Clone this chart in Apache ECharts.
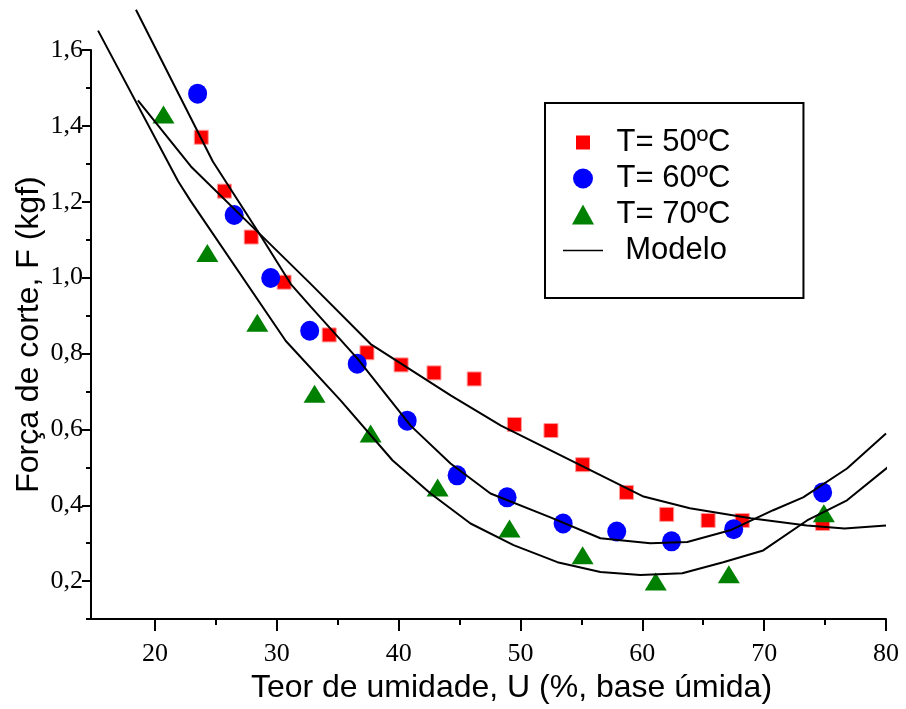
<!DOCTYPE html>
<html>

<head>
    <meta charset="utf-8" />
    <title>Força de corte</title>
    <script src="https://cdn.jsdelivr.net/npm/echarts@6.0.0/dist/echarts.min.js"></script>
</head>

<body style="margin:0">
    <div id="main" style="width: 906px;height:709px;"></div>
    <script type="text/javascript">
        // pontos experimentais [U, F]
        var t50 = [[23.8, 1.37], [25.7, 1.228], [27.9, 1.107], [30.6, 0.988], [34.3, 0.849], [37.4, 0.802],
            [40.2, 0.770], [42.9, 0.749], [46.2, 0.733], [49.5, 0.613], [52.5, 0.597], [55.1, 0.507],
            [58.7, 0.434], [62.0, 0.376], [65.4, 0.360], [68.2, 0.360], [74.8, 0.352]];
        var t60 = [[23.5, 1.485], [26.5, 1.165], [29.5, 0.999], [32.7, 0.860], [36.6, 0.773], [40.7, 0.623],
            [44.8, 0.479], [48.9, 0.421], [53.5, 0.352], [57.9, 0.331], [62.4, 0.305], [67.5, 0.337], [74.8, 0.434]];
        var t70 = [[20.7, 1.430], [24.3, 1.065], [28.4, 0.881], [33.1, 0.694], [37.7, 0.589], [43.2, 0.447],
            [49.1, 0.339], [55.1, 0.268], [61.1, 0.199], [67.1, 0.218], [74.9, 0.379]];

        // curvas do modelo
        var model50 = [[18.6, 1.467], [22.95, 1.293], [28.7, 1.112], [32.8, 0.983], [37.7, 0.825], [44.3, 0.689],
            [48.4, 0.61], [56.6, 0.479], [60.1, 0.423], [63.9, 0.392], [68.9, 0.366], [73.5, 0.347], [76.6, 0.339], [80, 0.347]];
        var model60 = [[18.44, 1.706], [24.75, 1.306], [28.7, 1.109], [31.15, 0.983], [32.8, 0.923], [36.64, 0.786],
            [40.98, 0.610], [44.26, 0.510], [47.54, 0.431], [52.46, 0.368], [56.56, 0.313], [60.66, 0.300],
            [63.69, 0.303], [67.21, 0.334], [70.74, 0.387], [73.2, 0.421], [76.8, 0.497], [80, 0.589]];
        var model70 = [[15.33, 1.651], [21.9, 1.254], [22.95, 1.201], [30.74, 0.833], [35.25, 0.676], [39.51, 0.518],
            [42.62, 0.431], [45.9, 0.352], [49.43, 0.295], [53.03, 0.25], [56.56, 0.224], [59.84, 0.216],
            [63.28, 0.221], [66.64, 0.25], [69.92, 0.281], [73.52, 0.36], [76.8, 0.413], [80.33, 0.505]];

        // marcas dos eixos
        var xTicks = [20, 30, 40, 50, 60, 70, 80];
        var xMinorTicks = [25, 35, 45, 55, 65, 75];
        var yTicks = [0.2, 0.4, 0.6, 0.8, 1.0, 1.2, 1.4, 1.6];
        var yMinorTicks = [0.1, 0.3, 0.5, 0.7, 0.9, 1.1, 1.3, 1.5];

        var myChart = echarts.init(document.getElementById('main'));

        var tickFont = { fontFamily: 'Liberation Serif', fontSize: 26, color: '#000' };
        var nameFont = { fontFamily: 'Liberation Sans', fontSize: 32, color: '#000' };

        function modelLine(data) {
            return {
                name: 'Modelo',
                type: 'line',
                data: data,
                symbol: 'none',
                clip: false,
                z: 3,
                itemStyle: { color: '#000' },
                lineStyle: { color: '#000', width: 2 }
            };
        }

        var option = {
            animation: false,
            grid: { left: 91, right: 20, top: 50, bottom: 89 },
            legend: {
                orient: 'vertical',
                left: 545,
                top: 103,
                padding: [24, 73, 32, 18],
                itemGap: 5,
                itemWidth: 40,
                itemHeight: 20,
                borderColor: '#000',
                borderWidth: 2,
                textStyle: { fontFamily: 'Liberation Sans', fontSize: 31, color: '#000' },
                formatter: function (name) {
                    return name === 'Modelo' ? '  Modelo' : ' ' + name;
                },
                data: [
                    { name: 'T= 50ºC', icon: 'path://M0,0L20,0L20,20L0,20Z', itemStyle: { color: '#ff0000', borderColor: '#fff', borderWidth: 6 } },
                    { name: 'T= 60ºC', icon: 'circle' },
                    { name: 'T= 70ºC', icon: 'path://M11,0L22,20L0,20Z' },
                    { name: 'Modelo', icon: 'path://M0,0L40,0L40,1.6L0,1.6Z', itemStyle: { color: '#000' } }
                ]
            },
            xAxis: [
                {
                    type: 'value',
                    min: 14.75,
                    max: 80,
                    name: 'Teor de umidade, U (%, base úmida)',
                    nameLocation: 'middle',
                    nameGap: 49,
                    nameTextStyle: Object.assign({ padding: [0, 0, 0, 46] }, nameFont),
                    axisLine: { lineStyle: { color: '#000', width: 2 } },
                    axisTick: { customValues: xTicks, length: 12, lineStyle: { color: '#000', width: 2 } },
                    axisLabel: Object.assign({ customValues: xTicks, margin: 22 }, tickFont),
                    splitLine: { show: false }
                },
                {
                    type: 'value',
                    min: 14.75,
                    max: 80,
                    position: 'bottom',
                    axisLine: { show: false },
                    axisTick: { customValues: xMinorTicks, length: 6, lineStyle: { color: '#000', width: 2 } },
                    axisLabel: { show: false },
                    splitLine: { show: false }
                }
            ],
            yAxis: [
                {
                    type: 'value',
                    min: 0.1,
                    max: 1.6,
                    interval: 0.1,
                    name: 'Força de corte, F (kgf)',
                    nameLocation: 'middle',
                    nameGap: 46,
                    nameMoveOverlap: false,
                    nameTextStyle: nameFont,
                    axisLine: { lineStyle: { color: '#000', width: 2 } },
                    axisTick: { customValues: yTicks, length: 9, lineStyle: { color: '#000', width: 2 } },
                    axisLabel: Object.assign({
                        customValues: yTicks,
                        margin: 8,
                        formatter: function (v) { return v.toFixed(1).replace('.', ','); }
                    }, tickFont),
                    splitLine: { show: false }
                },
                {
                    type: 'value',
                    min: 0.1,
                    max: 1.6,
                    interval: 0.1,
                    position: 'left',
                    axisLine: { show: false },
                    axisTick: { customValues: yMinorTicks, length: 5, lineStyle: { color: '#000', width: 2 } },
                    axisLabel: { show: false },
                    splitLine: { show: false }
                }
            ],
            series: [
                {
                    name: 'T= 50ºC',
                    type: 'scatter',
                    symbol: 'rect',
                    symbolSize: 14,
                    data: t50,
                    itemStyle: { color: '#ff0000', borderColor: '#ff9a9a', borderWidth: 1, opacity: 1 }
                },
                {
                    name: 'T= 60ºC',
                    type: 'scatter',
                    symbol: 'circle',
                    symbolSize: [19, 20],
                    data: t60,
                    itemStyle: { color: '#0000ff', opacity: 1 }
                },
                {
                    name: 'T= 70ºC',
                    type: 'scatter',
                    symbol: 'triangle',
                    symbolSize: [22, 18],
                    data: t70,
                    itemStyle: { color: '#008000', opacity: 1 }
                },
                modelLine(model50),
                modelLine(model60),
                modelLine(model70)
            ]
        };

        myChart.setOption(option);
    </script>
</body>

</html>
